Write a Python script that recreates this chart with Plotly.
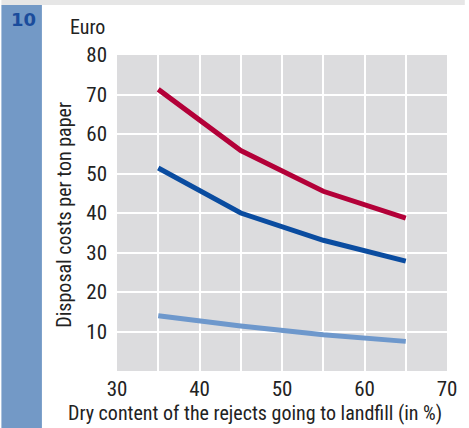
import plotly.graph_objects as go

dry_content = [35, 45, 55, 65]
cost_red = [71.3, 55.8, 45.5, 38.7]
cost_blue = [51.4, 40.0, 33.1, 27.8]
cost_light = [14.0, 11.4, 9.2, 7.5]
x_ticks = [30, 40, 50, 60, 70]
y_ticks = [10, 20, 30, 40, 50, 60, 70, 80]

FONT = "Liberation Sans Narrow, Roboto Condensed, Roboto, sans-serif"
W, H = 469, 428
L, R, T, B = 117, 18, 55, 57
PW, PH = W - L - R, H - T - B


def px(x):
    return (x - L) / PW


def py(y):
    return (H - B - y) / PH


fig = go.Figure()
for vals, col in [(cost_red, "#b30038"), (cost_blue, "#0a4ca0"), (cost_light, "#6e98cc")]:
    fig.add_trace(go.Scatter(x=dry_content, y=vals, mode="lines",
                             line=dict(color=col, width=5), showlegend=False,
                             hoverinfo="skip"))

fig.update_layout(
    width=W, height=H,
    margin=dict(l=L, r=R, t=T, b=B),
    paper_bgcolor="white", plot_bgcolor="#dcdcde",
    font=dict(family=FONT, size=20, color="#222222"),
    xaxis=dict(range=[30, 70], tickvals=x_ticks, showgrid=True, gridcolor="white",
               gridwidth=2, zeroline=False, showline=False, ticks="",
               ticklabelstandoff=3, tickfont=dict(size=21),
               minor=dict(dtick=5, showgrid=True, gridcolor="white", gridwidth=2)),
    yaxis=dict(range=[0, 80], tickvals=y_ticks, showgrid=True, gridcolor="white",
               gridwidth=2, zeroline=False, showline=False, ticks="",
               ticklabelstandoff=9, tickfont=dict(size=21)),
    shapes=[
        dict(type="rect", xref="paper", yref="paper", x0=px(0), x1=px(41),
             y0=py(H), y1=py(5), fillcolor="#7399c6", line_width=0, layer="below"),
        dict(type="rect", xref="paper", yref="paper", x0=px(0), x1=px(W),
             y0=py(5), y1=py(0), fillcolor="#e6e6e6", line_width=0, layer="below"),
    ],
    annotations=[
        dict(text="<b>10</b>", xref="paper", yref="paper", x=px(22), y=py(19),
             showarrow=False, font=dict(family="DejaVu Sans, sans-serif", size=18, color="#1a4c9c"),
             xanchor="center", yanchor="middle"),
        dict(text="Euro", xref="paper", yref="paper", x=px(107), y=py(27),
             showarrow=False, xanchor="right", yanchor="middle"),
        dict(text="Disposal costs per ton paper", xref="paper", yref="paper",
             x=px(63), y=py(215), textangle=-90,
             showarrow=False, xanchor="center", yanchor="middle"),
        dict(text="Dry content of the rejects going to landfill (in %)", xref="paper", yref="paper",
             x=px(257), y=py(413),
             showarrow=False, xanchor="center", yanchor="middle"),
    ],
)
fig.write_html("out.html", config={"displayModeBar": False},
               post_script="document.body.style.margin='0';document.body.style.overflow='hidden';")
